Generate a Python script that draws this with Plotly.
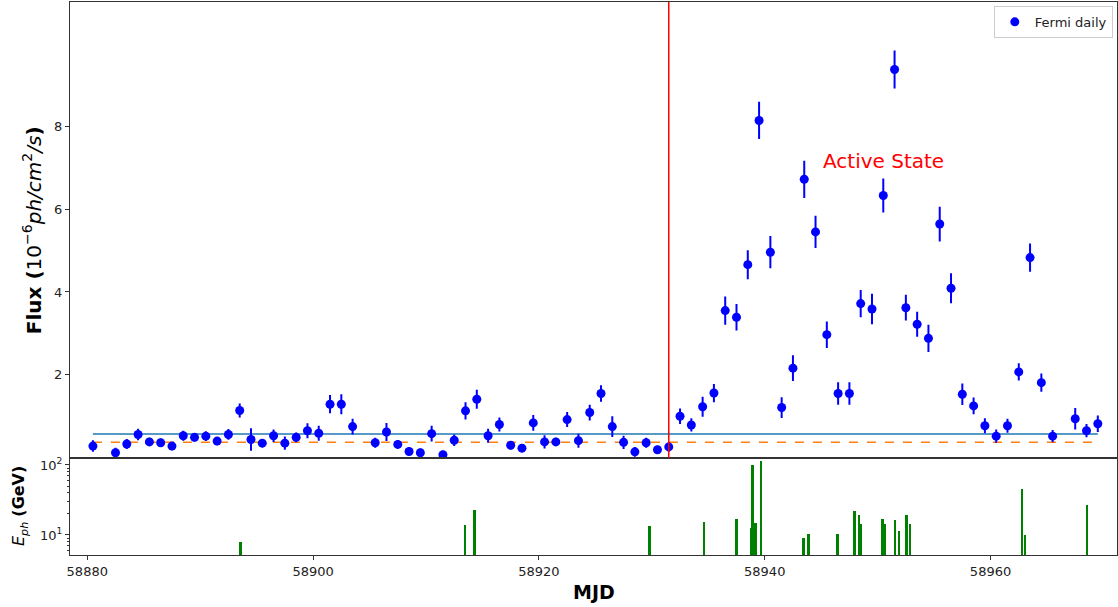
import plotly.graph_objects as go
from plotly.subplots import make_subplots

# ---- Fermi daily light curve ----
mjd = [58880.5, 58882.5, 58883.5, 58884.5, 58885.5, 58886.5, 58887.5, 58888.5, 58889.5,
       58890.5, 58891.5, 58892.5, 58893.5, 58894.5, 58895.5, 58896.5, 58897.5, 58898.5,
       58899.5, 58900.5, 58901.5, 58902.5, 58903.5, 58905.5, 58906.5, 58907.5, 58908.5,
       58909.5, 58910.5, 58911.5, 58912.5, 58913.5, 58914.5, 58915.5, 58916.5, 58917.5,
       58918.5, 58919.5, 58920.5, 58921.5, 58922.5, 58923.5, 58924.5, 58925.5, 58926.5,
       58927.5, 58928.5, 58929.5, 58930.5, 58931.5, 58932.5, 58933.5, 58934.5, 58935.5,
       58936.5, 58937.5, 58938.5, 58939.5, 58940.5, 58941.5, 58942.5, 58943.5, 58944.5,
       58945.5, 58946.5, 58947.5, 58948.5, 58949.5, 58950.5, 58951.5, 58952.5, 58953.5,
       58954.5, 58955.5, 58956.5, 58957.5, 58958.5, 58959.5, 58960.5, 58961.5, 58962.5,
       58963.5, 58964.5, 58965.5, 58967.5, 58968.5, 58969.5]
flux = [0.28, 0.12, 0.33, 0.56, 0.38, 0.36, 0.28, 0.53, 0.49,
        0.52, 0.40, 0.56, 1.14, 0.44, 0.35, 0.53, 0.35, 0.49,
        0.65, 0.59, 1.29, 1.29, 0.75, 0.36, 0.62, 0.32, 0.15,
        0.12, 0.58, 0.07, 0.42, 1.13, 1.41, 0.53, 0.80, 0.30,
        0.23, 0.84, 0.38, 0.38, 0.92, 0.41, 1.09, 1.55, 0.75,
        0.37, 0.14, 0.36, 0.19, 0.26, 1.00, 0.79, 1.23, 1.56,
        3.55, 3.39, 4.66, 8.14, 4.96, 1.21, 2.16, 6.72, 5.45,
        2.97, 1.55, 1.55, 3.72, 3.59, 6.33, 9.37, 3.62, 3.22,
        2.88, 5.64, 4.09, 1.53, 1.25, 0.77, 0.52, 0.77, 2.07,
        4.83, 1.81, 0.52, 0.94, 0.65, 0.82]
flux_err = [0.14, 0.12, 0.12, 0.14, 0.10, 0.10, 0.10, 0.12, 0.10,
            0.12, 0.10, 0.13, 0.17, 0.27, 0.10, 0.15, 0.16, 0.12,
            0.18, 0.18, 0.22, 0.24, 0.19, 0.12, 0.22, 0.10, 0.10,
            0.10, 0.19, 0.10, 0.14, 0.21, 0.23, 0.17, 0.17, 0.10,
            0.10, 0.19, 0.16, 0.10, 0.18, 0.17, 0.19, 0.20, 0.25,
            0.16, 0.12, 0.12, 0.10, 0.12, 0.19, 0.16, 0.24, 0.22,
            0.34, 0.32, 0.35, 0.45, 0.39, 0.25, 0.31, 0.45, 0.39,
            0.32, 0.27, 0.27, 0.33, 0.37, 0.41, 0.46, 0.31, 0.30,
            0.33, 0.42, 0.36, 0.26, 0.20, 0.18, 0.16, 0.17, 0.21,
            0.34, 0.22, 0.15, 0.26, 0.16, 0.20]

mean_flux = 0.57        # solid line
baseline_flux = 0.37    # dashed line
active_start = 58931.5

# ---- highest-energy photons ----
ph_mjd = [58893.55, 58913.45, 58914.31, 58929.79, 58934.60, 58937.49, 58938.80, 58938.92,
          58939.19, 58939.65, 58943.45, 58943.88, 58946.44, 58947.96, 58948.33, 58948.54,
          58950.43, 58950.64, 58951.52, 58951.91, 58952.56, 58952.86, 58962.78, 58963.06,
          58968.54]
ph_energy = [8.0, 14.0, 22.7, 13.7, 15.5, 17.1, 12.8, 99.7,
             15.0, 115.0, 9.3, 10.5, 10.5, 22.5, 19.6, 14.5,
             17.1, 14.5, 16.6, 11.6, 19.6, 14.5, 45.8, 10.2,
             27.2]

x_ticks = [58880, 58900, 58920, 58940, 58960]
x_ticktext = ["58880", "58900", "58920", "58940", "58960"]
flux_ticks = [2, 4, 6, 8]
xrange_ = [58878.47, 58971.2]
FONT = "DejaVu Sans"

fig = make_subplots(rows=2, cols=1, shared_xaxes=True, vertical_spacing=0,
                    row_heights=[0.824, 0.176])

fig.add_trace(go.Scatter(x=[min(mjd), max(mjd)], y=[mean_flux, mean_flux], mode="lines",
                         line=dict(color="#1f77b4", width=1.5), showlegend=False,
                         hoverinfo="skip"), row=1, col=1)
fig.add_trace(go.Scatter(x=[min(mjd), max(mjd)], y=[baseline_flux, baseline_flux], mode="lines",
                         line=dict(color="#ff7f0e", width=1.5, dash="dash"), showlegend=False,
                         hoverinfo="skip"), row=1, col=1)
fig.add_trace(go.Scatter(x=mjd, y=flux, mode="markers", name="Fermi daily",
                         marker=dict(color="#0000ff", size=9),
                         error_y=dict(type="data", array=flux_err, visible=True,
                                      color="#0000ff", thickness=2, width=0)),
              row=1, col=1)

fig.add_trace(go.Bar(x=ph_mjd, y=ph_energy, width=0.22,
                     marker=dict(color="#008000", line=dict(width=0)),
                     showlegend=False), row=2, col=1)

fig.add_shape(type="line", x0=active_start, x1=active_start, y0=0, y1=1,
              xref="x", yref="y domain", line=dict(color="red", width=1.5))

fig.add_annotation(x=58945.0, y=7.17, xref="x", yref="y", text="Active State",
                   showarrow=False, xanchor="left", yanchor="middle",
                   font=dict(family=FONT, size=20, color="red"))

axis_common = dict(showline=True, linecolor="#333", linewidth=1, mirror=True,
                   ticks="outside", ticklen=4, tickcolor="#333", showgrid=False, zeroline=False,
                   tickfont=dict(family=FONT, size=13, color="#222"))

fig.update_xaxes(range=xrange_, **axis_common)
fig.update_xaxes(showticklabels=False, ticks="", row=1, col=1)
fig.update_xaxes(tickmode="array", tickvals=x_ticks, ticktext=x_ticktext, row=2, col=1)
fig.update_yaxes(range=[0, 11], tickmode="array", tickvals=flux_ticks,
                 ticktext=[str(t) for t in flux_ticks], row=1, col=1, **axis_common)
fig.update_yaxes(type="log", range=[0.714, 2.104], tickmode="array", tickvals=[10, 100],
                 ticktext=["10<sup>1</sup>", "10<sup>2</sup>"],
                 minor=dict(ticks="outside", ticklen=2, tickcolor="#333",
                            tickvals=[6, 7, 8, 9, 20, 30, 40, 50, 60, 70, 80, 90]),
                 row=2, col=1, **axis_common)

# axis titles
fig.add_annotation(x=-0.036, y=0.588, xref="paper", yref="paper", textangle=-90,
                   text="<b>Flux (</b>10<sup>−6</sup><i>ph/cm</i><sup>2</sup><i>/s</i><b>)</b>",
                   showarrow=False, xanchor="center", yanchor="middle",
                   font=dict(family=FONT, size=20, color="black"))
fig.add_annotation(x=-0.048, y=0.088, xref="paper", yref="paper", textangle=-90,
                   text="<i>E</i><sub><i>ph</i></sub> <b>(GeV)</b>",
                   showarrow=False, xanchor="center", yanchor="middle",
                   font=dict(family=FONT, size=16, color="black"))
fig.add_annotation(x=0.5, y=-0.067, xref="paper", yref="paper", text="<b>MJD</b>",
                   showarrow=False, xanchor="center", yanchor="middle",
                   font=dict(family=FONT, size=19, color="black"))

fig.update_layout(
    width=1118, height=607,
    margin=dict(l=70, r=1, t=2, b=52),
    plot_bgcolor="white", paper_bgcolor="white",
    bargap=0,
    legend=dict(x=0.996, y=0.993, xanchor="right", yanchor="top",
                bordercolor="#ccc", borderwidth=1, bgcolor="white",
                font=dict(family=FONT, size=13, color="#222")),
)

fig.write_html("out.html")
